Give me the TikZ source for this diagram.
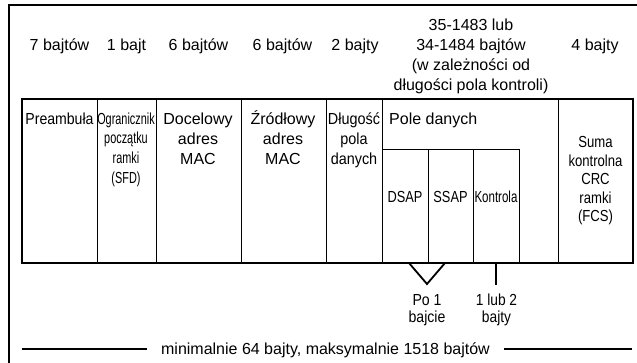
\documentclass[tikz,border=0pt]{standalone}
\usepackage{fontspec}
\setmainfont{Liberation Sans}
\usepackage{graphicx}
\newcommand{\hsq}[2]{\scalebox{#1}[1]{#2}}
\newcommand{\tstrut}{\rule{0pt}{15pt}}
\begin{document}
\begin{tikzpicture}[x=1pt,y=-1pt,
  txt/.style={font=\fontsize{16}{20}\selectfont, inner sep=0pt, align=center, anchor=north},
  cellbox/.style={draw, line width=0.8pt, inner sep=0pt, anchor=north west, minimum height=164pt},
  subbox/.style={draw, line width=0.8pt, inner sep=0pt, anchor=north west, minimum height=114pt},
  heavy/.style={line width=1.8pt}]
\useasboundingbox (0,0) rectangle (637,363);
\fill[white] (0,0) rectangle (637,363);
% outer frame
\draw[line width=2.6pt] (9,370) -- (9,5) -- (645,5);
% cells
\node[cellbox, minimum width=75pt] (cpre) at (22,99) {};
\node[cellbox, minimum width=59pt] (csfd) at (97,99) {};
\node[cellbox, minimum width=85pt] (cdst) at (156,99) {};
\node[cellbox, minimum width=85pt] (csrc) at (241,99) {};
\node[cellbox, minimum width=56pt] (clen) at (326,99) {};
\node[cellbox, minimum width=176pt] (cdata) at (382,99) {};
\node[cellbox, minimum width=75pt] (cfcs) at (558,99) {};
\node[subbox, minimum width=46pt] (cdsap) at (382,149) {};
\node[subbox, minimum width=45pt] (cssap) at (428,149) {};
\node[subbox, minimum width=46pt] (cctl) at (473,149) {};
\draw[heavy] (22,99) rectangle (633,263);
% top labels
\node[txt] (l1) at (59.5,35) {\tstrut 7 bajtów};
\node[txt] (l2) at (126.5,35) {\tstrut 1 bajt};
\node[txt] (l3) at (198.5,35) {\tstrut 6 bajtów};
\node[txt] (l4) at (282.5,35) {\tstrut 6 bajtów};
\node[txt] (l5) at (355,35) {\tstrut 2 bajty};
\node[txt] (l6) at (471,15) {\tstrut 35-1483 lub\\34-1484 bajtów\\(w zależności od\\długości pola kontroli)};
\node[txt] (l7) at (595,35) {\tstrut 4 bajty};
% cell texts
\node[txt] (tpre) at (59.5,109) {\tstrut\hsq{0.88}{Preambuła}};
\node[txt, font=\fontsize{16}{19.7}\selectfont] (tsfd) at (126,109) {\tstrut\hsq{0.68}{Ogranicznik}\\\hsq{0.68}{początku}\\\hsq{0.68}{ramki}\\\hsq{0.68}{(SFD)}};
\node[txt] (tdst) at (198,109) {\tstrut Docelowy\\adres\\MAC};
\node[txt] (tsrc) at (283,109) {\tstrut Źródłowy\\adres\\MAC};
\node[txt] (tlen) at (354,109) {\tstrut\hsq{0.9}{Długość}\\\hsq{0.9}{pola}\\\hsq{0.9}{danych}};
\node[txt, anchor=north west] (tdata) at (389,109) {\tstrut Pole danych};
\node[txt] (tdsap) at (405,187.5) {\tstrut\hsq{0.8}{DSAP}};
\node[txt] (tssap) at (450.5,187.5) {\tstrut\hsq{0.8}{SSAP}};
\node[txt] (tctl) at (496,187.5) {\tstrut\hsq{0.72}{Kontrola}};
\node[txt, font=\fontsize{16}{18.5}\selectfont] (tfcs) at (595.5,132.5) {\tstrut\hsq{0.82}{Suma}\\\hsq{0.82}{kontrolna}\\\hsq{0.82}{CRC}\\\hsq{0.82}{ramki}\\\hsq{0.82}{(FCS)}};
% markers below
\coordinate (va) at (409,263);
\coordinate (vb) at (427,284);
\coordinate (vc) at (445,263);
\coordinate (ta) at (496,263);
\coordinate (tb) at (496,285);
\draw[heavy, line join=miter] (va) -- (vb) -- (vc);
\draw[heavy] (ta) -- (tb);
\node[txt, font=\fontsize{16}{17}\selectfont] (po1) at (427,290) {\tstrut\hsq{0.88}{Po 1}\\\hsq{0.88}{bajcie}};
\node[txt, font=\fontsize{16}{17}\selectfont] (lub) at (496.5,290) {\tstrut\hsq{0.86}{1 lub 2}\\\hsq{0.86}{bajty}};
% bottom total
\node[txt, inner xsep=13.5pt] (bot) at (325.5,339) {\tstrut minimalnie 64 bajty, maksymalnie 1518 bajtów};
\coordinate (bl) at (22,349);
\coordinate (br) at (632,349);
\draw[heavy] (bl) -- (bl -| bot.west);
\draw[heavy] (br) -- (br -| bot.east);
\end{tikzpicture}
\end{document}
